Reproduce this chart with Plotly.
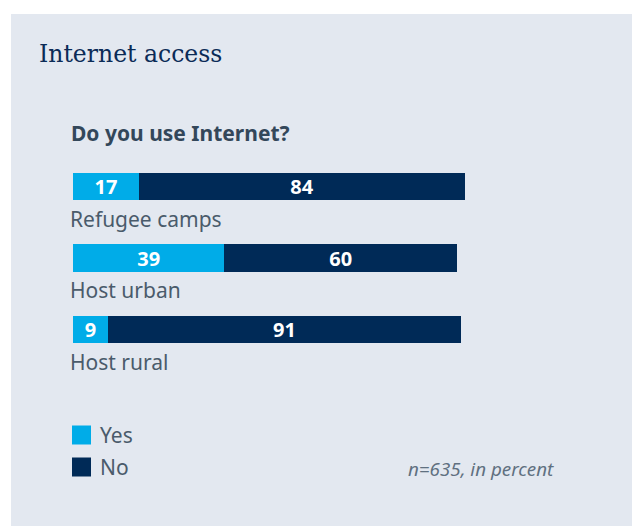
import plotly.graph_objects as go

# ---- data ----
categories = ["Refugee camps", "Host urban", "Host rural"]
yes_values = [17, 39, 9]
no_values = [84, 60, 91]
series_names = ["Yes", "No"]
series_colors = ["#00ace8", "#002a57"]

title_text = "Internet access"
subtitle_text = "Do you use Internet?"
note_text = "n=635, in percent"

W, H = 632, 526


def px(x):
    return x / W


def py(y):
    return 1 - y / H


fig = go.Figure()
for name, vals, col in zip(series_names, [yes_values, no_values], series_colors):
    fig.add_trace(go.Bar(
        y=categories, x=vals, name=name, orientation="h",
        marker=dict(color=col, line=dict(width=0)),
        width=0.378,
        text=vals, texttemplate="%{x}", textposition="inside",
        insidetextanchor="middle", textangle=0,
        textfont=dict(family="Noto Sans", size=20, color="white", weight="bold"),
        constraintext="none",
        cliponaxis=False,
        hoverinfo="skip",
        showlegend=False,
    ))

# pixel scale: 71.5 px per category, first bar centre at y=186.5
step = 71.5
top_val = -186.5 / step
bot_val = top_val + H / step
xmax = 104
unit = 3.88

annotations = []
# title
annotations.append(dict(text=title_text, xref="paper", yref="paper", x=px(37), y=py(54),
                        xanchor="left", yanchor="middle", showarrow=False,
                        font=dict(family="DejaVu Serif", size=23.5, color="#0b2b57")))
# subtitle
annotations.append(dict(text=subtitle_text, xref="paper", yref="paper", x=px(69), y=py(133),
                        xanchor="left", yanchor="middle", showarrow=False,
                        font=dict(family="Noto Sans", size=21, color="#33475a", weight="bold")))
# category labels under bars
for c in categories:
    annotations.append(dict(text=c, xref="paper", yref="y", x=px(68), y=c, yshift=-32,
                            xanchor="left", yanchor="middle", showarrow=False,
                            font=dict(family="Noto Sans", size=21, color="#4a5b6b")))
# legend (manual)
shapes = [dict(type="rect", xref="paper", yref="paper", x0=px(11), x1=1, y0=0, y1=py(14),
               fillcolor="#e3e8f0", line=dict(width=0), layer="below")]
leg_y = [435, 467]
for name, col, yc in zip(series_names, series_colors, leg_y):
    shapes.append(dict(type="rect", xref="paper", yref="paper", x0=px(72), x1=px(91),
                       y0=py(yc + 9.5), y1=py(yc - 9.5), fillcolor=col, line=dict(width=0)))
    annotations.append(dict(text=name, xref="paper", yref="paper", x=px(98), y=py(yc),
                            xanchor="left", yanchor="middle", showarrow=False,
                            font=dict(family="Noto Sans", size=21, color="#4a5b6b")))
# note
annotations.append(dict(text=note_text, xref="paper", yref="paper", x=px(556), y=py(469),
                        xanchor="right", yanchor="middle", showarrow=False,
                        font=dict(family="Noto Sans", size=18.8, color="#607080", style="italic")))

fig.update_layout(
    width=W, height=H,
    margin=dict(l=0, r=0, t=0, b=0),
    paper_bgcolor="white",
    plot_bgcolor="rgba(0,0,0,0)",
    barmode="stack",
    showlegend=False,
    shapes=shapes,
    annotations=annotations,
    xaxis=dict(domain=[px(73), px(73 + xmax * unit)], range=[0, xmax], visible=False, fixedrange=True),
    yaxis=dict(domain=[0, 1], type="category", categoryarray=categories,
               categoryorder="array", range=[bot_val, top_val], visible=False, fixedrange=True),
)

fig.write_html("out.html")
